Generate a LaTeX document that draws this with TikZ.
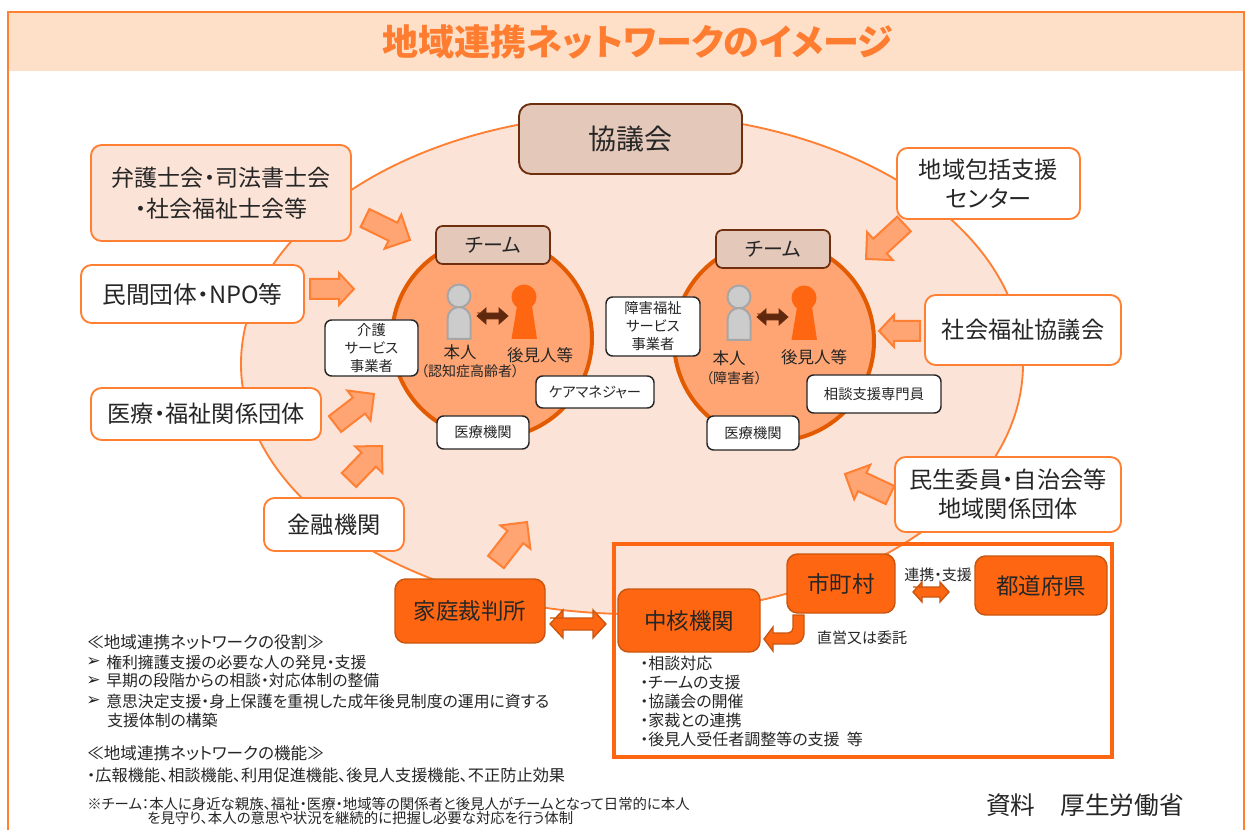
\documentclass[tikz,border=0pt]{standalone}
\usepackage{fontspec}
\setmainfont{Noto Sans CJK JP}[RawFeature=+palt]
\newfontfamily\dejavu{DejaVu Sans}
\usetikzlibrary{calc}
\definecolor{org}{HTML}{FF8033}
\definecolor{deep}{HTML}{FF6611}
\definecolor{deepb}{HTML}{C8560F}
\definecolor{ring}{HTML}{E35B00}
\definecolor{band}{HTML}{FEDFC8}
\definecolor{peach}{HTML}{FBE3D7}
\definecolor{salmon}{HTML}{FFA473}
\definecolor{tan}{HTML}{E4C8B9}
\definecolor{brown}{HTML}{6E2F0F}
\definecolor{ink}{HTML}{262626}
\newcommand\fpx[2]{\fontsize{\fpeval{#1*0.75}pt}{\fpeval{#2*0.75}pt}\selectfont}
\tikzset{
 wh/.style 2 args={minimum width=#1*0.75pt,minimum height=#2*0.75pt},
 tbox/.style={draw,rounded corners=8pt,inner sep=0pt,align=center,text=ink,line width=1.4pt},
 outerw/.style={tbox,draw=org,fill=white,font=\fpx{23.2}{29}},
 outerp/.style={tbox,draw=org,fill=peach,font=\fpx{23}{31}},
 core/.style={tbox,draw=deepb,fill=deep,line width=1.1pt,font=\fpx{22.5}{28}},
 inner/.style={tbox,draw=ink,fill=white,rounded corners=5pt,line width=1.1pt,font=\fpx{14.3}{18}},
 team/.style={tbox,draw=brown,fill=tan,rounded corners=5pt,line width=1.3pt,font=\fpx{20}{22}},
 lab/.style={inner sep=0pt,text=ink,font=\fpx{16.5}{20}},
 note/.style={inner sep=0pt,anchor=west,text=ink,font=\fpx{15.85}{19}},
 tiny/.style={inner sep=0pt,anchor=west,text=ink,font=\fpx{14.4}{17}},
 barrow/.style={draw=org,fill=salmon,line width=1.5pt,line join=miter},
 corearrow/.style={draw=deepb,fill=deep,line width=1pt,line join=miter},
 brownarrow/.style={draw=brown,fill=brown!85!black,line width=.6pt},
 ghead/.style={draw=black!35,fill=black!20,line width=1.5pt},
 ohead/.style={draw=none,fill=deep},
}
% block arrow from tail to tip: x1 y1 x2 y2 halfshaft halfhead headlen
\newcommand\barr[8][barrow]{%
 \pgfmathsetmacro\aang{atan2(-(#5-#3),#4-#2)}%
 \pgfmathsetmacro\alen{veclen(#4-#2,#5-#3)}%
 \path[#1,shift={(#2,#3)},rotate=\aang]
  (0,-#6)--({\alen-#8},-#6)--({\alen-#8},-#7)--(\alen,0)--({\alen-#8},#7)--({\alen-#8},#6)--(0,#6)--cycle;}
\newcommand\dbl[7][corearrow]{% x1 x2 y halfshaft halfhead headlen
 \path[#1] (#2,#4-#5)--(#3-#7,#4-#5)--(#3-#7,#4-#6)--(#3,#4)--(#3-#7,#4+#6)--(#3-#7,#4+#5)--(#2+#7,#4+#5)--(#2+#7,#4+#6)--(#2,#4)--(#2+#7,#4-#6)--(#2+#7,#4-#5)--cycle;}
\newcommand\person[4]{% gray x, orange x, y-offset gray, y-offset orange
 \path[ghead] (#1,#3+296) circle[radius=11.5];
 \path[ghead] (#1-11.5,#3+339) -- (#1-11.5,#3+319) .. controls (#1-11.5,#3+312) and (#1-6,#3+307) .. (#1,#3+307) .. controls (#1+6,#3+307) and (#1+11.5,#3+312) .. (#1+11.5,#3+319) -- (#1+11.5,#3+339) -- cycle;
 \path[ohead] (#2,#4+297) circle[radius=12.5];
 \path[ohead] (#2-7,#4+306) -- (#2+8,#4+306) -- (#2+13,#4+339) -- (#2-12.5,#4+339) -- cycle;}
\begin{document}
\begin{tikzpicture}[x=0.75pt,y=-0.75pt]
\useasboundingbox (0,0) rectangle (1246,830);
\fill[white] (0,0) rectangle (1246,830);
\path[fill=band] (8,12) rectangle (1244,71);
\draw[org,line width=1.7pt] (8,835) -- (8,12) -- (1244,12) -- (1244,835);
\node[inner sep=0pt,text=org!90!deep,font=\fpx{36}{40}\bfseries] (title) at (638,42) {地域連携ネットワークのイメージ};
% network
\draw[org,fill=peach,line width=1.4pt] (632,364) ellipse[x radius=391,y radius=250];
% teams
\draw[ring,fill=salmon,line width=3pt] (492,338) circle[radius=100];
\draw[ring,fill=salmon,line width=3pt] (774,341) circle[radius=100];
\node[team,wh={114}{38}] (teamL) at (493,245) {チーム};
\node[team,wh={114}{38}] (teamR) at (773,249) {チーム};
\person{459}{524}{0}{0}
\person{739}{804}{1}{1}
\dbl[brownarrow]{477}{508}{316}{3}{8}{9}
\dbl[brownarrow]{757}{788}{317}{3}{8}{9}
\node[lab] (selfL) at (460,352) {本人};
\node[lab] (guardL) at (540,355) {後見人等};
\node[lab,font=\fpx{14}{17}] (subL) at (470,371) {（認知症高齢者）};
\node[lab] (selfR) at (729,358) {本人};
\node[lab] (guardR) at (814,357) {後見人等};
\node[lab,font=\fpx{14}{17}] (subR) at (734,378) {（障害者）};
\node[inner,wh={93}{56}] (care) at (371.5,348) {介護\\サービス\\事業者};
\node[inner,wh={118}{32}] (cm) at (595,392) {ケアマネジャー};
\node[inner,wh={92}{33}] (medL) at (483,432.5) {医療機関};
\node[inner,wh={94}{59}] (dis) at (653,326.5) {障害福祉\\サービス\\事業者};
\node[inner,wh={134}{38}] (soudan) at (874,394) {相談支援専門員};
\node[inner,wh={92}{34}] (medR) at (753,433) {医療機関};
% outer organisations
\node[tbox,draw=brown,fill=tan,rounded corners=9pt,font=\fpx{28}{32},wh={223}{70}] (kyo) at (630.5,139) {協議会};
\node[outerp,wh={260}{96}] (law) at (221,193) {弁護士会・司法書士会\\・社会福祉士会等};
\node[outerw,font=\fpx{23.7}{29},wh={223}{58}] (npo) at (192.5,294) {民間団体・NPO等};
\node[outerw,wh={230}{52}] (med) at (206,414) {医療・福祉関係団体};
\node[outerw,wh={140}{53}] (fin) at (334,524.5) {金融機関};
\node[outerw,wh={183}{71}] (comm) at (988.5,183.5) {地域包括支援\\センター};
\node[outerw,wh={196}{70}] (shakyo) at (1023,330) {社会福祉協議会};
\node[outerw,wh={226}{75}] (minsei) at (1008,494.5) {民生委員・自治会等\\地域関係団体};
% block arrows
\barr{365}{218}{410}{240}{10}{19}{19}
\barr{310}{289}{354}{289}{10}{16}{15}
\barr{335}{424}{374}{394}{10}{19}{19}
\barr{349}{480}{382}{446}{10}{19}{19}
\barr{496}{562}{527}{522}{10}{19}{19}
\barr{904}{224}{866}{259}{10}{19}{19}
\barr{920}{331}{879}{331}{10}{16}{15}
\barr{890}{495}{845}{474}{10}{19}{19}
% core frame
\draw[deep,line width=3.2pt] (614,544) rectangle (1112,757);
\node[core,wh={150}{64}] (court) at (470,611) {家庭裁判所};
\node[core,wh={142}{63}] (chukaku) at (689,620.5) {中核機関};
\node[core,wh={108}{59}] (city) at (841,583.5) {市町村};
\node[core,wh={132}{59}] (pref) at (1041,585.5) {都道府県};
\dbl{550}{606}{624}{6}{14}{13}
\dbl{913}{949}{592}{5}{10}{9}
\path[corearrow] (793,615)--(804,615)--(804,632) .. controls (804,640) and (800,644) .. (792,644)--(773,644)--(773,651)--(764,639)--(773,627)--(773,633)--(788,633) .. controls (791,633) and (793,631) .. (793,628)--cycle;
\node[tiny,anchor=center,font=\fpx{15}{17}] (renkei) at (938,575) {連携・支援};
\node[tiny,anchor=center,font=\fpx{15}{17}] (choku) at (862,638) {直営又は委託};
\node[note,font=\fpx{16}{19}] (l1) at (640,663) {・相談対応};
\node[note,font=\fpx{16}{19}] (l2) at (640,682) {・チームの支援};
\node[note,font=\fpx{16}{19}] (l3) at (640,701) {・協議会の開催};
\node[note,font=\fpx{16}{19}] (l4) at (640,720) {・家裁との連携};
\node[note,font=\fpx{16}{19}] (l5) at (640,739) {・後見人受任者調整等の支援\ \ 等};
% notes
\node[note,font=\fpx{16.6}{19}] (r0) at (87,642) {≪地域連携ネットワークの役割≫};
\node[note,font=\fpx{17}{17}\dejavu] (b1) at (86,662) {➢};
\node[note] (r1) at (106,662) {権利擁護支援の必要な人の発見・支援};
\node[note,font=\fpx{17}{17}\dejavu] (b2) at (86,681) {➢};
\node[note] (r2) at (106,681) {早期の段階からの相談・対応体制の整備};
\node[note,font=\fpx{17}{17}\dejavu] (b3) at (86,701) {➢};
\node[note] (r3) at (106,701) {意思決定支援・身上保護を重視した成年後見制度の運用に資する};
\node[note] (r4) at (107,720) {支援体制の構築};
\node[note,font=\fpx{16.6}{19}] (f0) at (87,753) {≪地域連携ネットワークの機能≫};
\node[note,font=\fpx{16.2}{19}] (f1) at (87,775) {・広報機能、相談機能、利用促進機能、後見人支援機能、不正防止効果};
\node[tiny] (t1) at (87,804) {※チーム：本人に身近な親族、福祉・医療・地域等の関係者と後見人がチームとなって日常的に本人};
\node[tiny] (t2) at (147,818) {を見守り、本人の意思や状況を継続的に把握し必要な対応を行う体制};
\node[inner sep=0pt,anchor=west,text=ink,font=\fpx{24.7}{28}] (src) at (986,805) {資料\quad 厚生労働省};
\end{tikzpicture}
\end{document}
